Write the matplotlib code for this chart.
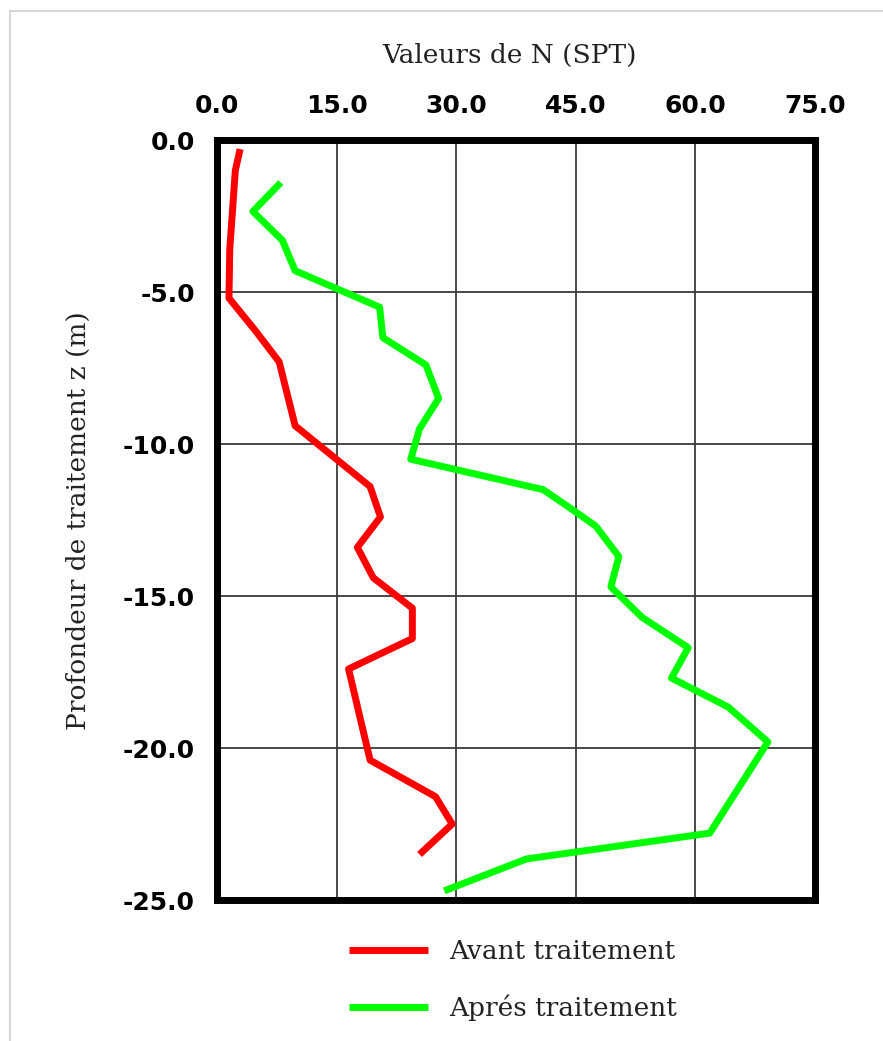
import matplotlib
matplotlib.use("Agg")
import matplotlib.pyplot as plt
from matplotlib.lines import Line2D

# ---- data ----
avant_N = [2.9, 2.3, 1.6, 1.5, 4.9, 7.8, 9.8, 19.2, 20.5, 17.6, 19.6, 24.5,
           24.5, 16.5, 19.2, 27.4, 29.5, 25.4]
avant_z = [-0.3, -1.0, -3.6, -5.2, -6.3, -7.3, -9.4, -11.4, -12.4, -13.4, -14.4,
           -15.4, -16.4, -17.4, -20.4, -21.6, -22.5, -23.5]

apres_N = [8.0, 4.5, 8.2, 9.8, 20.4, 20.8, 26.2, 27.8, 25.4, 24.3, 40.9, 44.8,
           47.5, 50.4, 49.4, 53.3, 59.1, 57.0, 64.1, 69.1, 61.8, 38.8, 28.5]
apres_z = [-1.4, -2.35, -3.3, -4.3, -5.5, -6.5, -7.4, -8.5, -9.5, -10.5, -11.5,
           -12.2, -12.7, -13.7, -14.7, -15.7, -16.7, -17.7, -18.65, -19.8, -22.8,
           -23.65, -24.7]

x_ticks = [0, 15, 30, 45, 60, 75]
y_ticks = [0, -5, -10, -15, -20, -25]
series_labels = ["Avant traitement", "Aprés traitement"]
x_title = "Valeurs de N (SPT)"
y_title = "Profondeur de traitement z (m)"

W, H = 883, 1041
fig = plt.figure(figsize=(W / 100, H / 100), dpi=100)
fig.patch.set_facecolor("white")

left, right, top, bottom = 217, 815, 140, 900
ax = fig.add_axes([left / W, 1 - bottom / H, (right - left) / W, (bottom - top) / H])

ax.plot(avant_N, avant_z, color="#ff0000", lw=5, solid_joinstyle="round",
        solid_capstyle="butt", zorder=3, label=series_labels[0])
ax.plot(apres_N, apres_z, color="#00ff00", lw=5, solid_joinstyle="round",
        solid_capstyle="butt", zorder=3, label=series_labels[1])

ax.set_xlim(0, 75)
ax.set_ylim(-25, 0)
ax.set_xticks(x_ticks)
ax.set_yticks(y_ticks)
ax.set_xticklabels([f"{v:.1f}" for v in x_ticks])
ax.set_yticklabels([f"{v:.1f}" for v in y_ticks])
ax.xaxis.tick_top()
ax.tick_params(axis="both", length=0, labelsize=18)
ax.tick_params(axis="x", pad=16)
ax.tick_params(axis="y", pad=16)
for lab in ax.get_xticklabels() + ax.get_yticklabels():
    lab.set_fontweight("bold")
    lab.set_family("DejaVu Sans")

ax.grid(True, color="#3a3a3a", lw=1.3, zorder=1)
ax.set_axisbelow(True)
for sp in ax.spines.values():
    sp.set_linewidth(5)
    sp.set_color("black")
    sp.set_zorder(4)

fig.text(510 / W, 1 - 55 / H, x_title, ha="center", va="center",
         family="DejaVu Serif", fontsize=19, color="#222222")
fig.text(78 / W, 1 - 521 / H, y_title, ha="center", va="center", rotation=90,
         family="DejaVu Serif", fontsize=19, color="#222222")

leg = fig.legend(loc="upper left", bbox_to_anchor=(349 / W, 1 - 939 / H),
                 frameon=False, prop={"family": "DejaVu Serif", "size": 19},
                 borderpad=0, borderaxespad=0,
                 handlelength=3.0, handletextpad=0.8, labelspacing=1.15)
for t in leg.get_texts():
    t.set_color("#222222")

# light gray frame of the picture
fig.add_artist(Line2D([10 / W, 10 / W], [0, 1 - 11 / H], transform=fig.transFigure,
                      color="#d6d6d6", lw=1.5))
fig.add_artist(Line2D([10 / W, 1], [1 - 11 / H, 1 - 11 / H], transform=fig.transFigure,
                      color="#d6d6d6", lw=1.5))

fig.savefig("out.png", dpi=100)
